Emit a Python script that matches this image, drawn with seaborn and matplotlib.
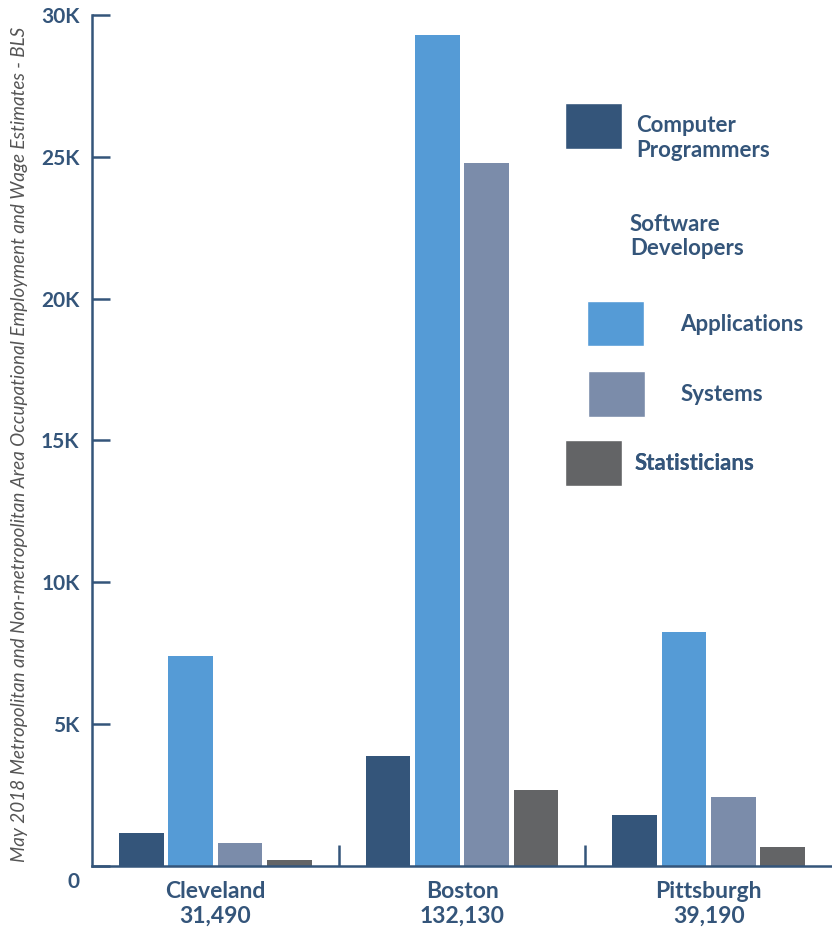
import matplotlib
matplotlib.use("Agg")
import matplotlib.pyplot as plt
import matplotlib.transforms as mtransforms
from matplotlib.patches import Patch
from matplotlib.ticker import FuncFormatter
import pandas as pd
import seaborn as sns

cities = ["Cleveland", "Boston", "Pittsburgh"]
city_totals = ["31,490", "132,130", "39,190"]
occupations = ["Computer Programmers", "Applications", "Systems", "Statisticians"]
programmers = [1160, 3880, 1800]
applications = [7400, 29290, 8250]
systems = [810, 24780, 2430]
statisticians = [210, 2680, 670]
colors = ["#34557a", "#559bd6", "#7b8caa", "#636466"]
navy = "#34557a"

rows = []
for series, name in zip([programmers, applications, systems, statisticians], occupations):
    for city, total, v in zip(cities, city_totals, series):
        rows.append({"city": f"{city}\n{total}", "occupation": name, "employment": v})
df = pd.DataFrame(rows)

sns.set_style("white")
plt.rcParams["font.family"] = ["Lato", "DejaVu Sans"]

fig = plt.figure(figsize=(8.32, 9.3), dpi=100)
ax = fig.add_axes([0.1106, 0.0688, 0.8894, 0.9151])

sns.barplot(
    data=df, x="city", y="employment",
    hue="occupation", hue_order=occupations, palette=colors,
    width=0.8, gap=0.1, saturation=1, linewidth=0,
    errorbar=None, legend=False, ax=ax,
)

ax.set_xlim(-0.5, 2.5)
ax.set_ylim(0, 30000)
ax.set_yticks(range(0, 30001, 5000))
ax.yaxis.set_major_formatter(FuncFormatter(lambda v, p: f"{int(v / 1000)}K" if v > 0 else "0"))

for side in ["top", "right"]:
    ax.spines[side].set_visible(False)
for side in ["left", "bottom"]:
    ax.spines[side].set_color(navy)
    ax.spines[side].set_linewidth(1.8)

ax.tick_params(axis="y", left=True, direction="in", length=13, width=1.8, color=navy,
               pad=9, labelsize=15, labelcolor=navy)
ax.tick_params(axis="x", which="major", bottom=False, pad=7, labelsize=16.5, labelcolor=navy)
ax.set_xticks([0.5, 1.5], minor=True)
ax.tick_params(axis="x", which="minor", bottom=True, direction="in", length=15, width=1.8, color=navy)

for lbl in ax.get_yticklabels():
    lbl.set_fontweight("bold")
for lbl in ax.get_xticklabels():
    lbl.set_fontweight("bold")
    lbl.set_linespacing(1.25)
zero = ax.get_yticklabels()[0]
zero.set_transform(zero.get_transform() + mtransforms.ScaledTranslation(0, -0.14, fig.dpi_scale_trans))

ax.set_xlabel("")
ax.set_ylabel("May 2018 Metropolitan and Non-metropolitan Area Occupational Employment and Wage Estimates - BLS",
              fontsize=13.6, style="italic", color="#555555")
ax.yaxis.set_label_coords(-0.086, 0.495)


def add_key(color, text, x, y, pad):
    lg = ax.legend(handles=[Patch(facecolor=color, label=text)], loc="center left",
                   bbox_to_anchor=(x, y), frameon=False, borderpad=0, borderaxespad=0,
                   handlelength=2.57, handleheight=2.75, handletextpad=pad,
                   prop={"size": 16, "weight": "bold"}, labelcolor=navy)
    ax.add_artist(lg)


add_key(colors[0], "", 0.639, 0.8696, 0.55)
add_key(colors[1], "Applications", 0.669, 0.637, 1.6)
add_key(colors[2], "Systems", 0.670, 0.5546, 1.6)
add_key(colors[3], "Statisticians", 0.639, 0.4736, 0.55)
ax.text(0.735, 0.8555, "Computer\nProgrammers", transform=ax.transAxes, ha="left", va="center",
        fontsize=16, fontweight="bold", color=navy)
ax.text(0.727, 0.740, "Software\nDevelopers", transform=ax.transAxes, ha="left", va="center",
        fontsize=16, fontweight="bold", color=navy)

fig.savefig("out.png", dpi=100)
